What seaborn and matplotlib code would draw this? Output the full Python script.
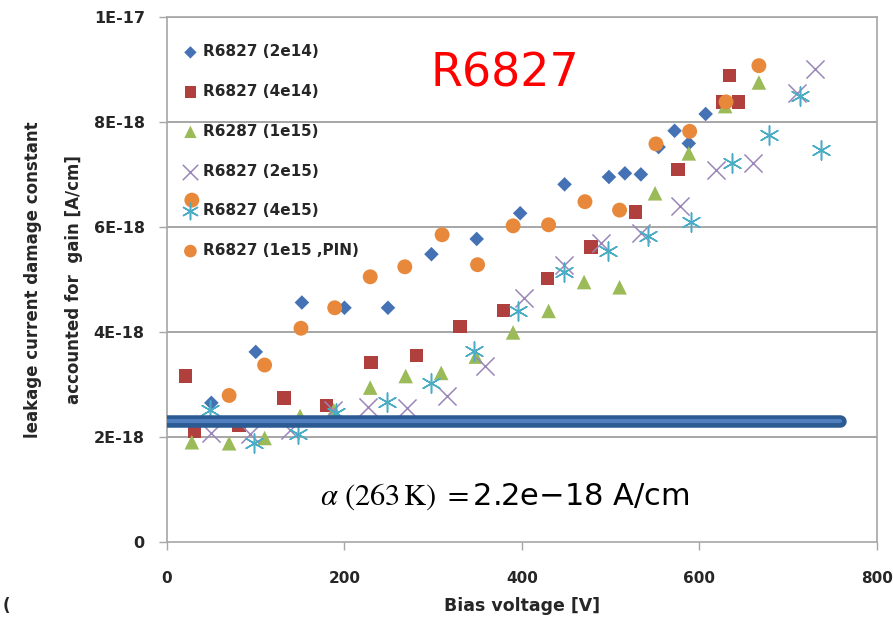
import matplotlib
matplotlib.use("Agg")
import matplotlib.pyplot as plt
import seaborn as sns
import pandas as pd

# ---------------- data (y in units of 1e-18 A/cm) ----------------
s1_label = "R6827 (2e14)"
s1_x = [50, 100, 152, 200, 249, 298, 349, 398, 448, 498, 516, 534, 554, 572, 588, 607]
s1_y = [2.65, 3.62, 4.56, 4.46, 4.46, 5.48, 5.77, 6.26, 6.81, 6.95, 7.02, 7.00, 7.52, 7.83, 7.59, 8.15]

s2_label = "R6827 (4e14)"
s2_x = [21, 31, 81, 132, 180, 230, 281, 330, 379, 429, 478, 528, 576, 626, 634, 644]
s2_y = [3.16, 2.10, 2.22, 2.74, 2.60, 3.42, 3.55, 4.10, 4.41, 5.02, 5.62, 6.28, 7.09, 8.38, 8.88, 8.38]

s3_label = "R6287 (1e15)"
s3_x = [28, 70, 110, 150, 188, 229, 269, 309, 348, 390, 430, 470, 510, 550, 588, 629, 667]
s3_y = [1.90, 1.88, 1.98, 2.40, 2.51, 2.94, 3.16, 3.22, 3.53, 3.99, 4.40, 4.95, 4.85, 6.64, 7.40, 8.30, 8.75]

s4_label = "R6827 (2e15)"
s4_x = [50, 94, 139, 187, 226, 271, 315, 358, 402, 447, 489, 534, 578, 619, 660, 710, 730]
s4_y = [2.07, 2.06, 2.13, 2.51, 2.57, 2.55, 2.78, 3.36, 4.64, 5.28, 5.69, 5.89, 6.40, 7.09, 7.22, 8.55, 9.00]

s5_label = "R6827 (4e15)"
s5_x = [48, 98, 148, 191, 248, 297, 346, 396, 447, 497, 542, 590, 637, 678, 713, 737]
s5_y = [2.51, 1.88, 2.06, 2.45, 2.67, 3.03, 3.64, 4.40, 5.15, 5.55, 5.82, 6.10, 7.21, 7.75, 8.50, 7.47]

s6_label = "R6827 (1e15 ,PIN)"
s6_x = [28, 70, 110, 151, 189, 229, 268, 310, 350, 390, 430, 471, 510, 551, 589, 630, 667]
s6_y = [6.51, 2.79, 3.37, 4.07, 4.46, 5.05, 5.24, 5.85, 5.28, 6.02, 6.04, 6.48, 6.32, 7.58, 7.82, 8.38, 9.07]

alpha_x = [0, 758]
alpha_y = [2.3, 2.3]

y_ticks = [0, 2, 4, 6, 8, 10]
y_tick_labels = ["0", "2E-18", "4E-18", "6E-18", "8E-18", "1E-17"]
x_ticks = [0, 200, 400, 600, 800]
x_tick_labels = ["0", "200", "400", "600", "800"]

title_text = "R6827"
alpha_text = r"$\alpha\ (263\,\mathrm{K})\ =$" + "2.2e\u221218 A/cm"
x_label = "Bias voltage [V]"
y_label = "leakage current damage constant\naccounted for  gain [A/cm]"

# ---------------- style ----------------
sns.set_style("white")
plt.rcParams["font.family"] = ["DejaVu Sans"]
plt.rcParams["mathtext.fontset"] = "stix"

fig = plt.figure(figsize=(8.93, 6.23), dpi=100)
ax = fig.add_axes([0.187, 0.130, 0.795, 0.843])

grid_c = "#A6A6A6"
for yv in y_ticks[1:]:
    ax.axhline(yv, color=grid_c, lw=1.4, zorder=0)

series = [
    (s1_label, s1_x, s1_y, "D", "#4472B4", 55, None),
    (s2_label, s2_x, s2_y, "s", "#B0403D", 95, None),
    (s3_label, s3_x, s3_y, "^", "#9BBB59", 110, None),
    (s4_label, s4_x, s4_y, "x", "#9A86B9", 170, 1.1),
    (s5_label, s5_x, s5_y, (6, 2, 0), "#4BACC6", 190, 1.1),
    (s6_label, s6_x, s6_y, "o", "#E8883A", 115, None),
]
for lab, xs, ys, m, c, s, lw in series:
    df = pd.DataFrame({"x": xs, "y": ys})
    kw = dict(data=df, x="x", y="y", marker=m, color=c, s=s, ax=ax, label=lab, zorder=3)
    if lw is None:
        kw["edgecolor"] = "none"
    else:
        kw["linewidth"] = lw
    sns.scatterplot(**kw)

# alpha line
dfl = pd.DataFrame({"x": alpha_x, "y": alpha_y})
sns.lineplot(data=dfl, x="x", y="y", color="#2C5A92", lw=9, ax=ax, zorder=4,
             solid_capstyle="round", legend=False)
sns.lineplot(data=dfl, x="x", y="y", color="#4F7FBF", lw=3, ax=ax, zorder=5,
             solid_capstyle="round", legend=False)

ax.set_xlim(0, 800)
ax.set_ylim(0, 10)
ax.set_xticks(x_ticks)
ax.set_xticklabels(x_tick_labels, fontsize=11, fontweight="bold")
ax.set_yticks(y_ticks)
ax.set_yticklabels(y_tick_labels, fontsize=11.5, fontweight="bold")
ax.tick_params(axis="both", direction="out", length=6, width=1, color=grid_c, pad=10,
               bottom=True, left=True)
ax.tick_params(axis="x", pad=15)
for sp in ax.spines.values():
    sp.set_color(grid_c)
    sp.set_linewidth(1.2)
    sp.set_visible(True)

ax.set_xlabel(x_label, fontsize=12.5, fontweight="bold", labelpad=8)
ax.set_ylabel(y_label, fontsize=12, fontweight="bold", linespacing=2.6, labelpad=8)

ax.text(381, 8.92, title_text, color="#FF0000", fontsize=33, ha="center", va="center")
ax.text(381, 0.86, alpha_text, color="black", fontsize=22, ha="center", va="center")

leg = ax.legend(loc="upper left", bbox_to_anchor=(0.005, 0.965), frameon=False,
                prop={"weight": "bold", "size": 11}, labelspacing=1.62,
                handletextpad=0.15, handlelength=1.4, borderaxespad=0.2,
                markerscale=0.85)

fig.text(0.003, 0.02, "(", fontsize=12, fontweight="bold")

fig.savefig("out.png", dpi=100)
